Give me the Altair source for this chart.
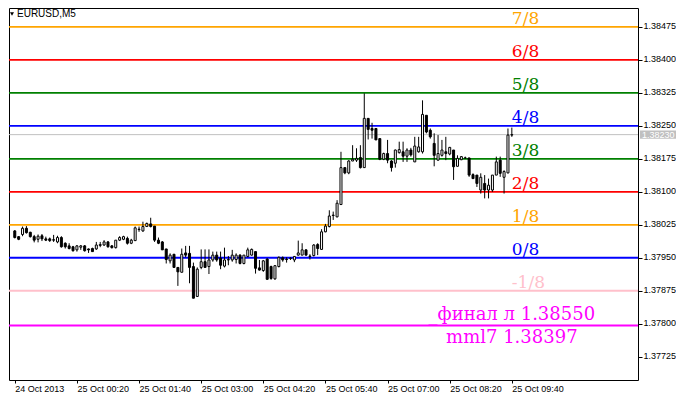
import json
import altair as alt
import pandas as pd

# ---------------- data ----------------
opens = [1.38011, 1.37998, 1.38003, 1.38017, 1.38008, 1.37998, 1.37992, 1.38000, 1.37993, 1.37993,
         1.37991, 1.37986, 1.37996, 1.37983, 1.37977, 1.37975, 1.37968, 1.37974, 1.37977, 1.37970,
         1.37971, 1.37970, 1.37978, 1.37979, 1.37986, 1.37977, 1.37973, 1.37990, 1.37992, 1.37994,
         1.37983, 1.37989, 1.38015, 1.38011, 1.38021, 1.38027, 1.38022, 1.37990, 1.37986, 1.37970,
         1.37943, 1.37958, 1.37928, 1.37917, 1.37961, 1.37960, 1.37930, 1.37862, 1.37928, 1.37941,
         1.37930, 1.37945, 1.37956, 1.37949, 1.37931, 1.37945, 1.37945, 1.37946, 1.37956, 1.37937,
         1.37953, 1.37956, 1.37964, 1.37927, 1.37921, 1.37947, 1.37930, 1.37902, 1.37930, 1.37950,
         1.37947, 1.37948, 1.37945, 1.37956, 1.37956, 1.37968, 1.37954, 1.37955, 1.37980, 1.37969,
         1.38009, 1.38021, 1.38046, 1.38043, 1.38071, 1.38155, 1.38143, 1.38170, 1.38172, 1.38178,
         1.38155, 1.38267, 1.38244, 1.38244, 1.38221, 1.38174, 1.38187, 1.38170, 1.38165, 1.38189,
         1.38191, 1.38181, 1.38195, 1.38168, 1.38191, 1.38191, 1.38274, 1.38240, 1.38210, 1.38172,
         1.38183, 1.38191, 1.38186, 1.38195, 1.38158, 1.38173, 1.38177, 1.38177, 1.38139, 1.38138,
         1.38104, 1.38119, 1.38104, 1.38104, 1.38138, 1.38172, 1.38133, 1.38143, 1.38229]
highs = [1.38013, 1.37999, 1.38021, 1.38022, 1.38009, 1.38002, 1.38003, 1.38004, 1.37998, 1.37996,
         1.38002, 1.38000, 1.37999, 1.37985, 1.37983, 1.37977, 1.37979, 1.37979, 1.37979, 1.37971,
         1.37973, 1.37986, 1.37986, 1.37990, 1.37988, 1.37979, 1.37990, 1.37999, 1.38000, 1.37998,
         1.37993, 1.38021, 1.38021, 1.38032, 1.38030, 1.38041, 1.38022, 1.37996, 1.37988, 1.37970,
         1.37960, 1.37958, 1.37928, 1.37971, 1.37977, 1.37977, 1.37939, 1.37928, 1.37969, 1.37969,
         1.37969, 1.37964, 1.37964, 1.37964, 1.37973, 1.37954, 1.37968, 1.37960, 1.37958, 1.37956,
         1.37973, 1.37971, 1.37964, 1.37945, 1.37945, 1.37949, 1.37932, 1.37933, 1.37953, 1.37953,
         1.37951, 1.37951, 1.37954, 1.37989, 1.37983, 1.37969, 1.37958, 1.37981, 1.37983, 1.38015,
         1.38027, 1.38058, 1.38055, 1.38081, 1.38191, 1.38155, 1.38172, 1.38206, 1.38199, 1.38206,
         1.38324, 1.38267, 1.38257, 1.38244, 1.38221, 1.38189, 1.38218, 1.38172, 1.38196, 1.38214,
         1.38214, 1.38199, 1.38200, 1.38225, 1.38225, 1.38308, 1.38274, 1.38244, 1.38233, 1.38229,
         1.38218, 1.38225, 1.38202, 1.38195, 1.38183, 1.38181, 1.38180, 1.38177, 1.38142, 1.38138,
         1.38142, 1.38138, 1.38130, 1.38138, 1.38180, 1.38180, 1.38149, 1.38244, 1.38246]
lows = [1.37994, 1.37990, 1.37999, 1.38005, 1.37996, 1.37985, 1.37985, 1.37988, 1.37988, 1.37986,
        1.37986, 1.37983, 1.37973, 1.37971, 1.37969, 1.37964, 1.37964, 1.37968, 1.37964, 1.37961,
        1.37964, 1.37968, 1.37974, 1.37977, 1.37973, 1.37971, 1.37971, 1.37988, 1.37990, 1.37980,
        1.37981, 1.37988, 1.38009, 1.38009, 1.38021, 1.38019, 1.37986, 1.37981, 1.37968, 1.37937,
        1.37937, 1.37928, 1.37886, 1.37917, 1.37951, 1.37892, 1.37858, 1.37862, 1.37924, 1.37928,
        1.37913, 1.37941, 1.37941, 1.37924, 1.37928, 1.37933, 1.37941, 1.37937, 1.37935, 1.37935,
        1.37951, 1.37955, 1.37914, 1.37921, 1.37918, 1.37900, 1.37900, 1.37900, 1.37928, 1.37941,
        1.37939, 1.37945, 1.37940, 1.37955, 1.37956, 1.37955, 1.37946, 1.37953, 1.37956, 1.37968,
        1.38008, 1.38019, 1.38036, 1.38042, 1.38071, 1.38140, 1.38140, 1.38170, 1.38168, 1.38153,
        1.38155, 1.38219, 1.38221, 1.38218, 1.38172, 1.38172, 1.38165, 1.38146, 1.38155, 1.38187,
        1.38168, 1.38168, 1.38180, 1.38168, 1.38189, 1.38187, 1.38233, 1.38221, 1.38158, 1.38171,
        1.38180, 1.38172, 1.38183, 1.38127, 1.38158, 1.38172, 1.38176, 1.38134, 1.38130, 1.38111,
        1.38096, 1.38085, 1.38085, 1.38100, 1.38138, 1.38134, 1.38096, 1.38142, 1.38225]
closes = [1.37996, 1.37992, 1.38017, 1.38007, 1.37998, 1.37990, 1.37999, 1.37993, 1.37990, 1.37989,
          1.37990, 1.37996, 1.37975, 1.37975, 1.37971, 1.37966, 1.37977, 1.37977, 1.37966, 1.37968,
          1.37964, 1.37979, 1.37980, 1.37986, 1.37975, 1.37973, 1.37990, 1.37996, 1.37998, 1.37983,
          1.37990, 1.38018, 1.38014, 1.38021, 1.38028, 1.38021, 1.37990, 1.37983, 1.37968, 1.37946,
          1.37956, 1.37928, 1.37918, 1.37958, 1.37956, 1.37928, 1.37858, 1.37924, 1.37941, 1.37928,
          1.37945, 1.37956, 1.37945, 1.37933, 1.37945, 1.37946, 1.37956, 1.37956, 1.37937, 1.37956,
          1.37968, 1.37969, 1.37926, 1.37922, 1.37943, 1.37901, 1.37903, 1.37932, 1.37951, 1.37945,
          1.37946, 1.37949, 1.37953, 1.37961, 1.37968, 1.37956, 1.37953, 1.37979, 1.37971, 1.38009,
          1.38022, 1.38045, 1.38047, 1.38074, 1.38155, 1.38143, 1.38170, 1.38174, 1.38176, 1.38155,
          1.38267, 1.38242, 1.38240, 1.38218, 1.38174, 1.38187, 1.38172, 1.38155, 1.38195, 1.38196,
          1.38181, 1.38195, 1.38184, 1.38204, 1.38202, 1.38276, 1.38236, 1.38225, 1.38183, 1.38187,
          1.38195, 1.38187, 1.38201, 1.38157, 1.38176, 1.38180, 1.38177, 1.38138, 1.38130, 1.38119,
          1.38133, 1.38104, 1.38115, 1.38138, 1.38168, 1.38142, 1.38146, 1.38229, 1.38230]

time_tick_bars = [0, 16, 32, 48, 64, 80, 96, 112, 128]
time_tick_labels = ["24 Oct 2013", "25 Oct 00:20", "25 Oct 01:40", "25 Oct 03:00",
                    "25 Oct 04:20", "25 Oct 05:40", "25 Oct 07:00", "25 Oct 08:20",
                    "25 Oct 09:40"]

price_ticks = [1.37725, 1.37800, 1.37875, 1.37950, 1.38025, 1.38100,
               1.38175, 1.38250, 1.38325, 1.38400, 1.38475]

level_names = ["7/8", "6/8", "5/8", "4/8", "3/8", "2/8", "1/8", "0/8", "-1/8"]
level_prices = [1.38475, 1.38400, 1.38325, 1.38250, 1.38175, 1.38100, 1.38025, 1.37950, 1.37875]
level_colors = ["#FFA500", "#FF0000", "#008000", "#0000FF", "#008000",
                "#FF0000", "#FFA500", "#0000FF", "#FFC0CB"]

final_price = 1.37796
final_text_top = "_финал л 1.38550"
final_text_bottom = "mml7 1.38397"

current_price = 1.38230
symbol_title = "EURUSD,M5"

# ---------------- frames ----------------
n = len(opens)
candles = pd.DataFrame({
    "bar": list(range(n)),
    "open": opens, "high": highs, "low": lows, "close": closes,
})
candles["fill"] = ["white" if c >= o else "black" for o, c in zip(opens, closes)]

last_bar = n - 1
levels = pd.DataFrame({"name": level_names, "price": level_prices,
                       "color": level_colors, "bar": [last_bar] * len(level_names)})
final_df = pd.DataFrame({"price": [final_price], "bar": [last_bar],
                         "top": [final_text_top], "bottom": [final_text_bottom]})
cur_df = pd.DataFrame({"price": [current_price]})
title_df = pd.DataFrame({"t": [symbol_title]})

W, H = 629, 372
xscale = alt.Scale(domain=[-0.2, 159.2], nice=False, zero=False)
yscale = alt.Scale(domain=[1.37672, 1.38518], nice=False, zero=False)

label_expr = json.dumps(time_tick_labels) + "[round(datum.value / 16)]"

x_axis = alt.Axis(values=time_tick_bars, labelExpr=label_expr, title=None, grid=False,
                  domain=False, tickSize=3, tickColor="black", labelAlign="left",
                  labelBaseline="top", labelPadding=1, labelFont="Liberation Sans",
                  labelFontSize=9, labelColor="black", labelFlush=False, labelOverlap=False)
y_axis = alt.Axis(orient="right", values=price_ticks, format=".5f", title=None, grid=False,
                  domain=False, tickSize=4, tickColor="black", labelPadding=1,
                  labelOffset=-1,
                  labelFont="Liberation Sans", labelFontSize=9, labelColor="black",
                  labelFlush=False, labelOverlap=False)


def X(field="bar:Q"):
    return alt.X(field, scale=xscale, axis=x_axis, title=None)


def Y(field):
    return alt.Y(field, scale=yscale, axis=y_axis, title=None)


level_rules = alt.Chart(levels).mark_rule(strokeWidth=1.8).encode(
    y=Y("price:Q"),
    color=alt.Color("color:N", scale=None),
)
final_rule = alt.Chart(final_df).mark_rule(strokeWidth=1.8, color="#FF00FF").encode(
    y=Y("price:Q"),
)
cur_rule = alt.Chart(cur_df).mark_rule(strokeWidth=1, color="#C0C0C0").encode(
    y=Y("price:Q"),
)

wicks = alt.Chart(candles).mark_rule(color="black", strokeWidth=1).encode(
    x=X(), y=Y("low:Q"), y2="high:Q",
)
bodies = alt.Chart(candles).mark_bar(size=2, stroke="black", strokeWidth=1).encode(
    x=X(), y=Y("open:Q"), y2="close:Q",
    fill=alt.Fill("fill:N", scale=None),
)

level_text = alt.Chart(levels).mark_text(
    align="left", baseline="alphabetic", dy=-2.5, font="DejaVu Serif", fontSize=17
).encode(
    x=X(), y=Y("price:Q"), text="name:N",
    color=alt.Color("color:N", scale=None),
)
final_top = alt.Chart(final_df).mark_text(
    align="center", baseline="alphabetic", dy=-5, font="DejaVu Serif", fontSize=18,
    color="#FF00FF"
).encode(x=X(), y=Y("price:Q"), text="top:N")
final_bottom = alt.Chart(final_df).mark_text(
    align="center", baseline="alphabetic", dy=18, font="DejaVu Serif", fontSize=18,
    color="#FF00FF"
).encode(x=X(), y=Y("price:Q"), text="bottom:N")

price_box = alt.Chart(cur_df).transform_calculate(
    top="datum.price + 0.0000955", bot="datum.price - 0.0000955"
).mark_rect(color="#C0C0C0").encode(
    x=alt.value(W + 2), x2=alt.value(W + 38),
    y=Y("top:Q"), y2="bot:Q",
)
price_text = alt.Chart(cur_df).mark_text(
    align="left", baseline="middle", font="Liberation Sans", fontSize=9, color="white"
).encode(
    x=alt.value(W + 4),
    y=Y("price:Q"),
    text=alt.Text("price:Q", format=".5f"),
)

title_tri = alt.Chart(title_df).mark_point(
    shape="triangle-down", filled=True, color="black", size=16, opacity=1
).encode(x=alt.value(3), y=alt.value(6))
title_text = alt.Chart(title_df).mark_text(
    align="left", baseline="middle", font="Liberation Sans", fontSize=10, color="black"
).encode(x=alt.value(8), y=alt.value(6), text="t:N")

chart = alt.layer(
    level_rules, final_rule, cur_rule, wicks, bodies,
    level_text, final_top, final_bottom, price_box, price_text,
    title_tri, title_text,
).properties(
    width=W, height=H,
    padding={"left": 0, "top": 0, "right": 0, "bottom": 0},
    background="white",
).configure_view(
    stroke="black", strokeWidth=1
)

chart.save("out.html", embed_options={"renderer": "svg", "actions": False})
